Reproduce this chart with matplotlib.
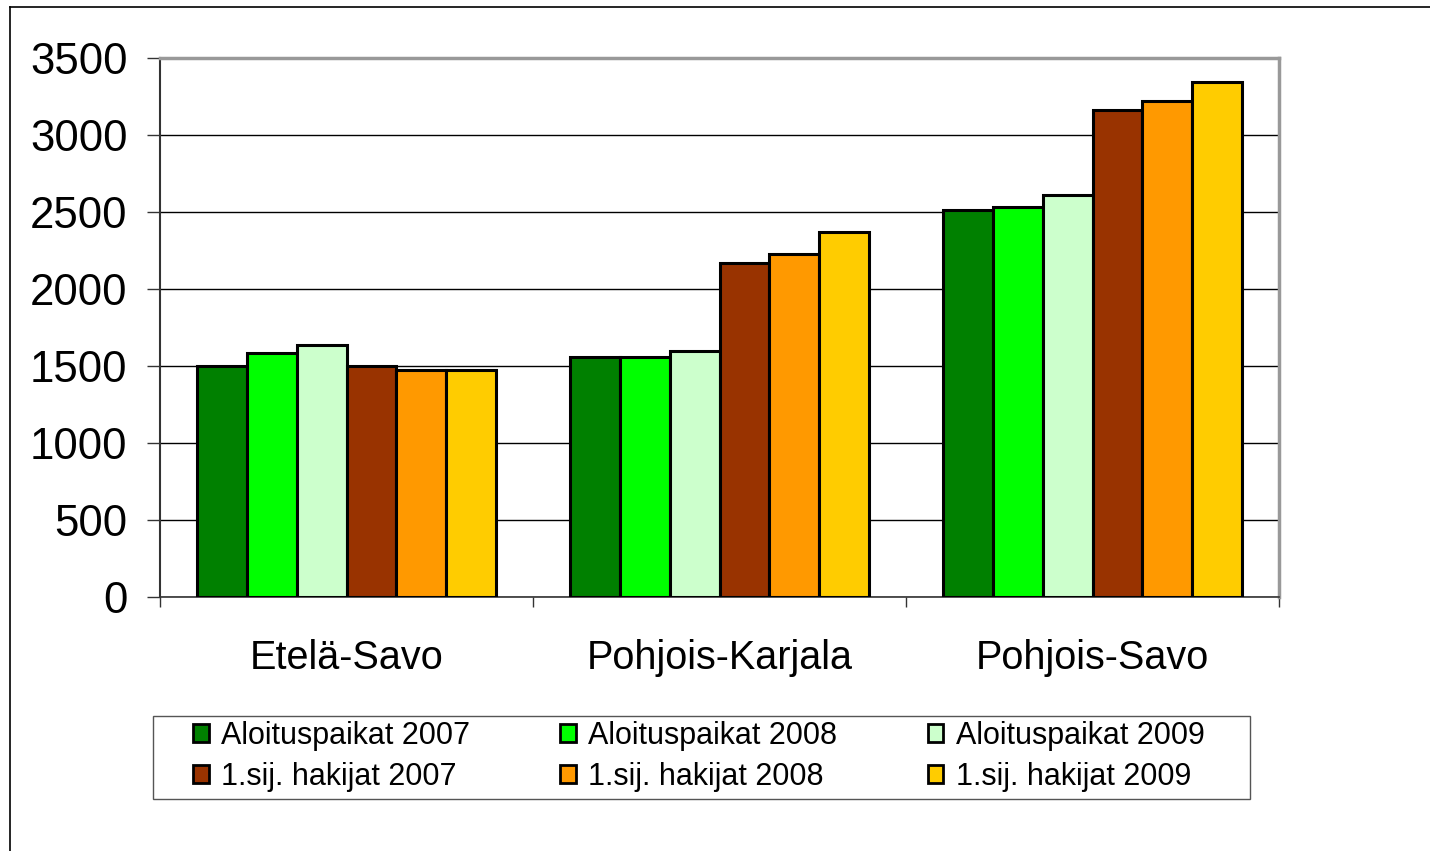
import matplotlib
matplotlib.use("Agg")
import matplotlib.pyplot as plt
import numpy as np
from matplotlib.lines import Line2D
from matplotlib.patches import Patch, Rectangle

categories = ["Etelä-Savo", "Pohjois-Karjala", "Pohjois-Savo"]
series_names = ["Aloituspaikat 2007", "Aloituspaikat 2008", "Aloituspaikat 2009",
                "1.sij. hakijat 2007", "1.sij. hakijat 2008", "1.sij. hakijat 2009"]
aloitus_2007 = [1500, 1558, 2513]
aloitus_2008 = [1584, 1558, 2532]
aloitus_2009 = [1636, 1597, 2610]
hakijat_2007 = [1500, 2169, 3162]
hakijat_2008 = [1474, 2227, 3221]
hakijat_2009 = [1474, 2370, 3344]
values = [aloitus_2007, aloitus_2008, aloitus_2009, hakijat_2007, hakijat_2008, hakijat_2009]
colors = ["#008000", "#00FF00", "#CCFFCC", "#993300", "#FF9900", "#FFCC00"]
yticks = [0, 500, 1000, 1500, 2000, 2500, 3000, 3500]

plt.rcParams['font.family'] = ['Liberation Sans', 'DejaVu Sans']

W, H = 1430, 851
fig = plt.figure(figsize=(W/100, H/100), dpi=100)
ax = fig.add_axes([160/W, 1-597/H, (1279-160)/W, (597-58)/H])

n = len(values)
bw = 0.8 / n
x = np.arange(len(categories))
for i, (vals, c) in enumerate(zip(values, colors)):
    ax.bar(x - 0.4 + bw*(i+0.5), vals, width=bw, color=c, edgecolor='black',
           linewidth=2.2, zorder=3)

ax.set_xlim(-0.5, len(categories)-0.5)
ax.set_ylim(0, 3500)
ax.set_yticks(yticks)
ax.set_yticklabels([str(v) for v in yticks], fontsize=31.5)
ax.yaxis.grid(True, color='black', linewidth=1.0, zorder=0)
ax.set_axisbelow(True)
ax.set_xticks(x)
ax.set_xticklabels(categories, fontsize=28.5)
ax.set_xticks(np.arange(len(categories)+1) - 0.5, minor=True)
ax.tick_params(axis='x', which='major', length=0, pad=30)
ax.tick_params(axis='x', which='minor', length=7, width=1, color='#333333')
ax.tick_params(axis='y', length=9.4, width=1, pad=14, color='#333333')
ax.spines['left'].set_color('#333333')
ax.spines['left'].set_linewidth(1.5)
ax.spines['bottom'].set_color('#333333')
ax.spines['bottom'].set_linewidth(1.2)
ax.spines['top'].set_color('#999999')
ax.spines['top'].set_linewidth(2.5)
ax.spines['right'].set_color('#999999')
ax.spines['right'].set_linewidth(2.5)

# legend box
fig.add_artist(Rectangle((153/W, 1-799/H), (1250-153)/W, (799-716)/H, transform=fig.transFigure,
                         fill=False, edgecolor='#555555', linewidth=1.0))
order = [0, 3, 1, 4, 2, 5]
handles = [Patch(facecolor=colors[i], edgecolor='black', linewidth=2.0) for i in order]
labels = [series_names[i] for i in order]
leg = fig.legend(handles, labels, ncol=3, loc='upper left',
                 bbox_to_anchor=(193/W, 1-721/H),
                 fontsize=22, frameon=False,
                 handlelength=0.52, handleheight=0.52, handletextpad=0.4,
                 labelspacing=0.35, borderpad=0, borderaxespad=0, columnspacing=2.95)

fig.add_artist(Line2D([10/W, 10/W], [0, 1-7/H], color='black', linewidth=1.2, transform=fig.transFigure))
fig.add_artist(Line2D([10/W, 1], [1-7/H, 1-7/H], color='black', linewidth=1.2, transform=fig.transFigure))

fig.savefig("out.png", dpi=100)
